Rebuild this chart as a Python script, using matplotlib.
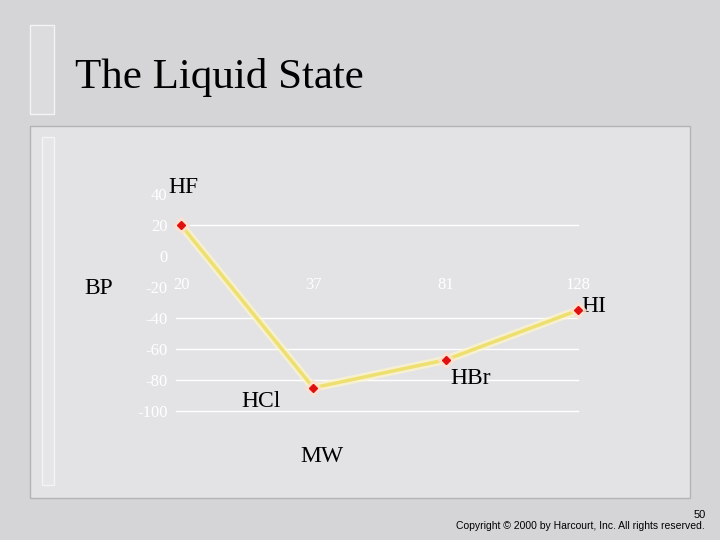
#!/usr/bin/env python3

import matplotlib
matplotlib.use('Agg')
import matplotlib.pyplot as plt
from matplotlib.patches import Rectangle

W, H = 720, 540

# boiling point vs molecular weight of the hydrogen halides
COMPOUNDS = ['HF', 'HCl', 'HBr', 'HI']
MW = ['20', '37', '81', '128']
BP = [20, -85, -67, -35]
Y_TICKS = [40, 20, 0, -20, -40, -60, -80, -100]
GRID_LEVELS = [20, -40, -60, -80, -100]
# label offsets from each point, in pixels
LABEL_OFFSETS = [(2, 37), (-52, -14), (25, -19), (16, 4)]

SERIF = ['Liberation Serif', 'DejaVu Serif']
SANS = ['Liberation Sans', 'DejaVu Sans']


def px(x, y):
    '''pixel position (from top left) to figure fraction'''
    return x / W, 1 - y / H


fig = plt.figure(figsize=(7.2, 5.4), dpi=100)
fig.patch.set_facecolor('#d5d5d8')

# slide decorations, kept behind the axes
fig.patches.append(Rectangle(px(30, 498), 660 / W, 372 / H, transform=fig.transFigure,
                             facecolor='#e3e3e5', edgecolor='#b4b4b8', lw=1, zorder=-2))
fig.patches.append(Rectangle(px(30, 114), 24 / W, 89 / H, transform=fig.transFigure,
                             facecolor='#dcdcdf', edgecolor='#f4f4f4', lw=1, zorder=-2))
fig.patches.append(Rectangle(px(42, 485), 12 / W, 348 / H, transform=fig.transFigure,
                             facecolor='#e6e6e8', edgecolor='#f4f4f4', lw=1, zorder=-2))

fig.text(*px(75, 88), 'The Liquid State', family=SERIF, fontsize=31,
         ha='left', va='baseline', color='black')

left, bottom = px(176, 411)
ax = fig.add_axes([left, bottom, 402 / W, 217 / H])
ax.patch.set_alpha(0)

x = list(range(len(COMPOUNDS)))
ax.plot(x, BP, color='#fff6c8', lw=6, alpha=0.7, solid_capstyle='round', zorder=3, clip_on=False)
ax.plot(x, BP, color='#eee070', lw=2.5, zorder=4, clip_on=False)
ax.plot(x, BP, ls='none', marker='D', ms=8, color='#ffe0d0', alpha=0.8, zorder=5, clip_on=False)
ax.plot(x, BP, ls='none', marker='D', ms=4.5, color='#e01010', zorder=6, clip_on=False)

for xi, yi, name, (dx, dy) in zip(x, BP, COMPOUNDS, LABEL_OFFSETS):
    ax.annotate(name, (xi, yi), xytext=(dx, dy), textcoords='offset pixels',
                ha='center', va='center', family=SERIF, fontsize=17, color='black')

for level in GRID_LEVELS:
    ax.axhline(level, color='white', lw=1, zorder=1, clip_on=False)

ax.set_ylim(-100, 40)
ax.set_xlim(-0.038, 3.0)
ax.set_yticks(Y_TICKS)
ax.set_yticklabels([str(v) for v in Y_TICKS])
ax.set_xticks(x)
ax.set_xticklabels(MW)

for spine in ['top', 'right', 'left']:
    ax.spines[spine].set_visible(False)
ax.spines['bottom'].set_position(('data', 0))
ax.spines['bottom'].set_visible(False)

ax.tick_params(axis='y', length=0, pad=6, labelcolor='white', labelsize=12)
ax.tick_params(axis='x', length=0, pad=15, labelcolor='white', labelsize=12)
for lab in ax.get_xticklabels() + ax.get_yticklabels():
    lab.set_family(SERIF)

fig.text(*px(99, 289), 'BP', family=SERIF, fontsize=17, ha='center', va='center')
fig.text(*px(322, 457), 'MW', family=SERIF, fontsize=17, ha='center', va='center')

fig.text(*px(706, 518), '50', family=SANS, fontsize=8, ha='right', va='baseline')
fig.text(*px(705, 529), 'Copyright \u00a9 2000 by Harcourt, Inc. All rights reserved.',
         family=SANS, fontsize=7.5, ha='right', va='baseline')

fig.savefig('out.png', dpi=100, facecolor=fig.get_facecolor())
